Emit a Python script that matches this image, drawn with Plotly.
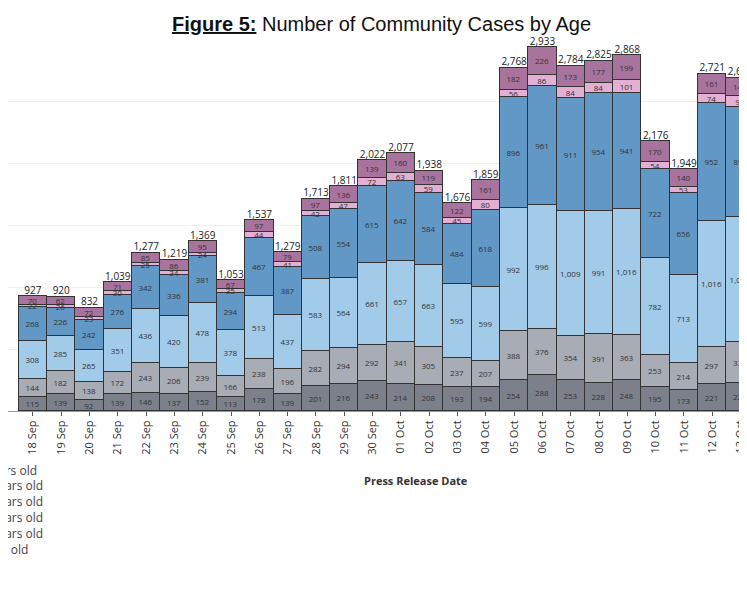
import plotly.graph_objects as go

dates = ["17 Sep", "18 Sep", "19 Sep", "20 Sep", "21 Sep", "22 Sep", "23 Sep", "24 Sep",
         "25 Sep", "26 Sep", "27 Sep", "28 Sep", "29 Sep", "30 Sep", "01 Oct", "02 Oct",
         "03 Oct", "04 Oct", "05 Oct", "06 Oct", "07 Oct", "08 Oct", "09 Oct", "10 Oct",
         "11 Oct", "12 Oct", "13 Oct"]

# bottom to top (17 Sep has no bar visible)
g1 = [None, 115, 139, 92, 139, 146, 137, 152, 113, 178, 139, 201, 216, 243, 214, 208, 193, 194,
      254, 288, 253, 228, 248, 195, 173, 221, 223]
g2 = [None, 144, 182, 138, 172, 243, 206, 239, 166, 238, 196, 282, 294, 292, 341, 305, 237, 207,
      388, 376, 354, 391, 363, 253, 214, 297, 330]
g3 = [None, 308, 285, 265, 351, 436, 420, 478, 378, 513, 437, 583, 564, 661, 657, 663, 595, 599,
      992, 996, 1009, 991, 1016, 782, 713, 1016, 1009]
g4 = [None, 268, 226, 242, 276, 342, 336, 381, 294, 467, 387, 508, 554, 615, 642, 584, 484, 618,
      896, 961, 911, 954, 941, 722, 656, 952, 891]
g5 = [None, 22, 26, 23, 30, 25, 34, 24, 35, 44, 41, 42, 47, 72, 63, 59, 45, 80,
      56, 86, 84, 84, 101, 54, 53, 74, 91]
g6 = [None, 70, 62, 72, 71, 85, 86, 95, 67, 97, 79, 97, 136, 139, 160, 119, 122, 161,
      182, 226, 173, 177, 199, 170, 140, 161, 144]

groups = ["0-9 years old", "10-19 years old", "20-39 years old",
          "40-59 years old", "60-79 years old", "80+ yrs old"]
series = [g1, g2, g3, g4, g5, g6]
colors = ["#7b808b", "#a8acb5", "#a2cbea", "#6198c6", "#e3afd2", "#a8739c"]

totals = [None if a is None else sum(s[i] for s in series) for i, a in enumerate(g1)]

fig = go.Figure()
for name, vals, col in zip(groups, series, colors):
    fig.add_trace(go.Bar(
        x=dates, y=vals, name=name, marker_color=col,
        marker_line=dict(color="#333333", width=1),
        text=[None if v is None else f"{v:,}" for v in vals],
        textposition="inside", insidetextanchor="middle", textangle=0,
        textfont=dict(size=8, color="#333333"), constraintext="none",
    ))

fig.add_trace(go.Scatter(
    x=dates, y=totals, mode="text",
    text=[None if t is None else f"{t:,}" for t in totals],
    textposition="top center", textfont=dict(size=10, color="#222222"),
    showlegend=False, cliponaxis=False,
))

fig.update_layout(
    barmode="stack", bargap=0, width=747, height=598,
    margin=dict(l=0, r=0, t=31, b=195),
    plot_bgcolor="white", paper_bgcolor="white",
    font=dict(family="Open Sans", color="#333333"),
    showlegend=False,
    title=dict(text="<b><u>Figure 5:</u></b> Number of Community Cases by Age",
               x=0.5, y=0.985, xanchor="center", yanchor="top",
               font=dict(family="Liberation Sans, Arial", size=20, color="#111111")),
    uniformtext=dict(minsize=7, mode="show"),
)
fig.update_xaxes(type="category", categoryorder="array", categoryarray=dates,
                 range=[0.12, 26.51], tickangle=-90, automargin=False,
                 tickfont=dict(size=11, color="#333333"), ticks="outside",
                 ticklen=4, tickcolor="#555555", showline=True, linecolor="#999999")
fig.update_yaxes(range=[0, 3000], showticklabels=False, showgrid=True,
                 gridcolor="#f0f0f0", dtick=500, zeroline=False, automargin=False)

fig.add_annotation(text="<b>Press Release Date</b>", xref="paper", yref="paper",
                   x=408 / 747, y=(403 - 472) / 372, showarrow=False, yanchor="middle",
                   font=dict(size=11, color="#333333"))

ends = [31, 37, 37, 37, 37, 22]
for i, (name, e) in enumerate(zip(reversed(groups), ends)):
    fig.add_annotation(text=name, xref="paper", yref="paper", x=e / 747,
                       y=(403 - (462 + i * 15.8)) / 372,
                       xanchor="right", yanchor="middle", showarrow=False,
                       font=dict(size=12, color="#444444"))

fig.write_html("out.html")
